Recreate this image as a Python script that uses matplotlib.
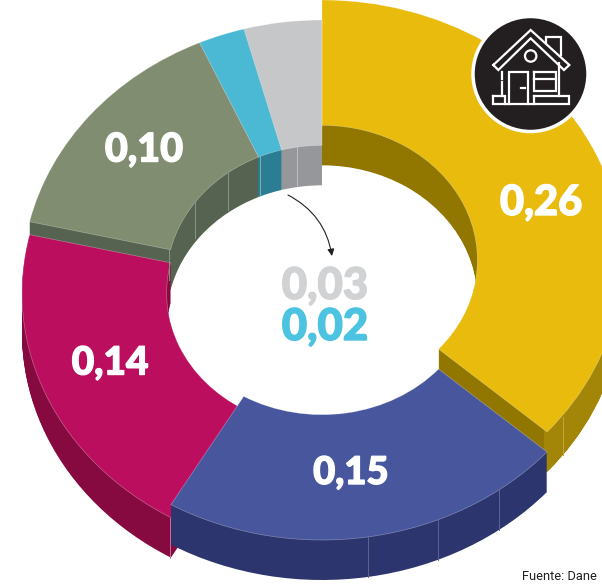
import matplotlib
matplotlib.use("Agg")
import matplotlib.pyplot as plt
import matplotlib.patheffects as pe
from matplotlib.patches import Circle
import numpy as np

# order: clockwise from 12 o'clock
values = [0.26, 0.15, 0.14, 0.10, 0.02, 0.03]
# share of the ring each slice takes
shares = [0.365, 0.219, 0.202, 0.147, 0.025, 0.042]
top_colors = ["#e9bb0c", "#47569d", "#bb0e5e", "#818d70", "#4bb9d4", "#c6c7c9"]
wall_colors = ["#917600", "#2c356d", "#860a40", "#566350", "#2a7d93", "#96979b"]
outer_colors = ["#a38608", "#2c356d", "#860a40", "#566350", "#2a7d93", "#96979b"]
drops = [0, 20, 33, 20, 20, 20]   # how far each slice sits below the gold one, px
draw_order = [0, 5, 4, 3, 2, 1]

label_pos = [(541, 203), (351, 473), (110, 363), (144, 150)]
label_size = [30, 27.5, 28, 28.5]

cx, cy = 322, 260
rx, ry = 300, 260
thick = 40
ring = 0.482

fig = plt.figure(figsize=(6.02, 5.84), dpi=100)
ax = fig.add_axes([0, 0, 1, 1])

starts = 90 - 360 * np.concatenate([[0], np.cumsum(shares)[:-1]])


def slice_layer(i, h, col, width, edge="none"):
    w, _ = ax.pie([shares[i], 1 - shares[i]], colors=[col, "none"], radius=1,
                  center=(0, -(drops[i] + h) / ry), startangle=starts[i],
                  counterclock=False, frame=True,
                  wedgeprops={"width": width, "linewidth": 0})
    w[1].set_visible(False)
    if edge != "none":
        w[0].set_edgecolor(edge)
        w[0].set_linewidth(0.5)


for i in draw_order:
    for h in range(thick, 0, -1):
        slice_layer(i, h, wall_colors[i], ring)
    if outer_colors[i] != wall_colors[i]:
        for h in range(thick, 0, -1):
            slice_layer(i, h, outer_colors[i], 0.015)
    slice_layer(i, 0, top_colors[i], ring, edge=(1, 1, 1, 0.35))

ax.set_aspect("auto")
ax.set_xlim(-cx / rx, (602 - cx) / rx)
ax.set_ylim((cy - 584) / ry, cy / ry)
ax.axis("off")

# second axes in picture pixels for text, seams and the icon
ov = fig.add_axes([0, 0, 1, 1])
ov.set_xlim(0, 602)
ov.set_ylim(584, 0)
ov.axis("off")
ov.patch.set_alpha(0)

seams = [(563, 417, 455, "#c0a63c"), (499, 490, 530, "#5c648f"), (438, 520, 560, "#5c648f"),
         (368, 537, 577, "#5c648f"), (228, 172, 210, "#8a9484"), (195, 202, 238, "#8a9484"),
         (169, 248, 280, "#8a9484"), (260, 156, 195, "#7fb0be"), (297, 147, 185, "#c0c1c4"),
         (170, 518, 558, "#c9709a")]
for x, y0, y1, c in seams:
    ov.plot([x, x], [y0, y1], color=c, lw=0.7)


def big_text(x, y, s, col, size):
    t = ov.text(x, y, s, color=col, fontsize=size, family="Lato", weight="black",
                ha="center", va="center")
    t.set_path_effects([pe.withStroke(linewidth=1.0, foreground=col)])


for v, (x, y), size in zip(values, label_pos, label_size):
    big_text(x, y, f"{v:.2f}".replace(".", ","), "white", size)
big_text(325, 286, "0,03", "#d1d2d4", 31.5)
big_text(325, 327, "0,02", "#4cc3e0", 31.5)

ov.annotate("", xy=(332, 256), xytext=(288, 195),
            arrowprops=dict(arrowstyle="-|>", color="#231f20", lw=0.8,
                            connectionstyle="arc3,rad=-0.25", shrinkA=0, shrinkB=0))

ov.text(522, 580, "Fuente: Dane", color="#231f20", fontsize=9.3, family="Roboto", va="baseline")

# house icon
ov.add_patch(Circle((530.5, 74), 57.5, facecolor="#231f20", edgecolor="white", lw=2.5))


def icon(pts, lw=1.6):
    xs = [460 + p[0] / 3 for p in pts]
    ys = [p[1] / 3 for p in pts]
    ov.plot(xs, ys, color="white", lw=lw, solid_joinstyle="miter")


icon([(100, 195), (212, 90), (328, 195), (312, 210), (212, 115), (115, 210), (100, 195)])
icon([(258, 130), (258, 110), (302, 110), (302, 165)])
icon([(125, 215), (125, 238)])
icon([(125, 247), (125, 288)])
icon([(298, 190), (298, 288)])
icon([(148, 312), (148, 215), (205, 215), (205, 312)])
icon([(182, 263), (195, 263)])
icon([(222, 215), (288, 215), (288, 272), (222, 272), (222, 215)])
icon([(222, 237), (288, 237)])
icon([(100, 288), (135, 288), (135, 312), (100, 312), (100, 288)])
icon([(222, 288), (328, 288), (328, 312), (222, 312), (222, 288)])
icon([(135, 312), (222, 312)])
ov.add_patch(Circle((460 + 212 / 3, 168 / 3), 5.7, facecolor="none", edgecolor="white", lw=1.6))

fig.savefig("out.png", dpi=100)
